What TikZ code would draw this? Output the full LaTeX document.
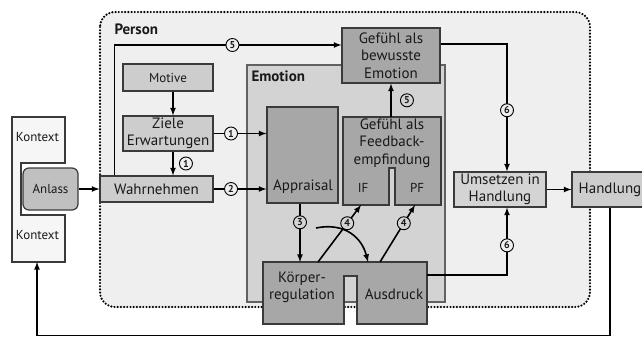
\documentclass[tikz,border=0pt]{standalone}
\usepackage{fontspec}
\setmainfont{PT Sans}
\usepackage{tikz}
\usetikzlibrary{arrows,positioning,calc}
\definecolor{personbg}{HTML}{EFEFEF}
\definecolor{emotionbg}{HTML}{D3D3D3}
\definecolor{lightgray}{HTML}{CDCDCD}
\definecolor{darkgray}{HTML}{A7A7A7}
\definecolor{anlassgray}{HTML}{C0C0C0}
\definecolor{kontextbg}{HTML}{F6F6F6}
\definecolor{edge}{HTML}{3A3A3A}

\begin{document}
\begin{tikzpicture}[x=1pt, y=-1pt, >=latex,
    every node/.style={font=\fontsize{15}{17.5}\selectfont, align=center, text=black!90},
    box/.style={rectangle, draw=edge, fill=lightgray, line width=1.2pt, inner sep=0pt},
    darkbox/.style={box, fill=darkgray},
    small/.style={font=\fontsize{13}{15}\selectfont},
    link/.style={->, line width=1.6pt},
    num/.style={circle, draw, line width=0.9pt, inner sep=0pt, minimum size=13pt, font=\fontsize{10}{10}\selectfont\bfseries, fill=personbg}]
        \useasboundingbox (0,0) rectangle (642,338);
        
        % Areas
        \draw[fill=personbg, line width=2.4pt, dash pattern=on 0pt off 3.2pt, line cap=round, rounded corners=15pt] (100,12) rectangle (590,307);
        \node[font=\fontsize{15}{17}\selectfont\bfseries, anchor=west] (person) at (111,29) {Person};
        \draw[fill=emotionbg, draw=edge!80, line width=1.2pt] (247,65) rectangle (445,302);
        \node[font=\fontsize{15}{17}\selectfont\bfseries, anchor=west] (emotion) at (248,76) {Emotion};
        
        % Kontext
        \draw[fill=kontextbg, draw=edge, line width=1.1pt] (12,117) -- (65,117) -- (65,163) -- (21,163) -- (21,215) -- (65,215) -- (65,262) -- (12,262) -- cycle;
        \node[small] (kontextA) at (37.5,137) {Kontext};
        \node[small] (kontextB) at (37.5,235) {Kontext};
        \coordinate (kontextfoot) at (37,262);
        
        % Nodes
        \node[box, fill=anlassgray, rounded corners=6pt, minimum width=55pt, minimum height=42pt, small] (anlass) at (50.5,189) {Anlass};
        \node[box, minimum width=90pt, minimum height=27pt, small] (motive) at (168,77.5) {Motive};
        \node[box, minimum width=90pt, minimum height=35pt] (ziele) at (168,133.5) {Ziele\\Erwartungen};
        \node[box, minimum width=113pt, minimum height=26pt] (wahrnehmen) at (156.5,189) {Wahrnehmen};
        \node[darkbox, minimum width=71pt, minimum height=96pt] (appraisal) at (302.5,155) {};
        \node (appraisaltext) at (303,187) {Appraisal};
        \node[darkbox, minimum width=98pt, minimum height=55pt] (bewusst) at (391,55.5) {Gefühl als\\bewusste\\Emotion};
        \node[box, fill=lightgray!85, minimum width=92pt, minimum height=35pt] (umsetzen) at (500,189.5) {Umsetzen in\\Handlung};
        \node[box, minimum width=76pt, minimum height=35pt] (handlung) at (610,189.5) {Handlung};
        
        % Feedback (IF | PF)
        \draw[fill=darkgray, draw=edge, line width=1.2pt] (343,117) -- (441,117) -- (441,205) -- (395,205) -- (395,168) -- (389,168) -- (389,205) -- (343,205) -- cycle;
        \node (feedback) at (392,143) {Gefühl als\\Feedback-\\empfindung};
        \node[small] (IF) at (363,188) {IF};
        \node[small] (PF) at (417,188) {PF};
        \coordinate (feedbacktop) at (391,117);
        \coordinate (IFfoot) at (361,205);
        \coordinate (PFfoot) at (415,205);
        
        % Koerperregulation | Ausdruck
        \draw[fill=darkgray, draw=edge, line width=1.2pt] (263,262) -- (427,262) -- (427,324) -- (357,324) -- (357,276) -- (344,276) -- (344,324) -- (263,324) -- cycle;
        \node (koerper) at (302,287.5) {Körper-\\regulation};
        \node (ausdruck) at (394,294) {Ausdruck};
        \coordinate (koerpertop) at (300,262);
        \coordinate (koerperout) at (318,262);
        \coordinate (ausdrucktop) at (368,262);
        \coordinate (ausdruckout) at (380,262);
        \coordinate (ausdruckright) at (427,275);
        \coordinate (curvestart) at (316,228);
        
        % Links
        \draw[link] ([xshift=5pt]motive.south) -- ([xshift=5pt]ziele.north);
        \draw[link] ([xshift=5pt]ziele.south) -- node[num, right=6pt] {1} ([xshift=5pt]ziele.south |- wahrnehmen.north);
        \draw[link] (ziele.east) -- node[num, pos=0.33] {1} (ziele.east -| appraisal.west);
        \draw[link] (wahrnehmen.east) -- node[num, pos=0.33] {2} (wahrnehmen.east -| appraisal.west);
        \draw[link] (anlass.east) -- (wahrnehmen.west);
        \draw[link] ([xshift=15pt]wahrnehmen.north west) |- node[num, pos=0.76] {5} ([yshift=10.5pt]bewusst.west);
        \draw[link] (feedbacktop) -- node[num, fill=emotionbg, right=9pt] {5} (feedbacktop |- bewusst.south);
        \draw[link] (appraisal.south -| koerpertop) -- node[num, fill=emotionbg, pos=0.32] {3} (koerpertop);
        \draw[link] (curvestart) .. controls (345,222) and (362,238) .. (ausdrucktop);
        \draw[link] (koerperout) -- node[num, fill=emotionbg, pos=0.68] {4} (IFfoot);
        \draw[link] (ausdruckout) -- node[num, fill=emotionbg, pos=0.68] {4} (PFfoot);
        \draw[link] ([yshift=11.5pt]bewusst.east) -| node[num, pos=0.76] {6} ([xshift=7pt]umsetzen.north);
        \draw[link] (ausdruckright) -| node[num, pos=0.72] {6} ([xshift=7pt]umsetzen.south);
        \draw[link] (umsetzen.east) -- (handlung.west);
        \draw[link] (handlung.south) -- ++(0,128) -| (kontextfoot);
    \end{tikzpicture}
\end{document}
